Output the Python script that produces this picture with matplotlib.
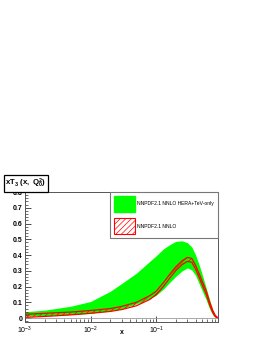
import matplotlib
matplotlib.use("Agg")
import matplotlib.pyplot as plt
from matplotlib.patches import Patch
from matplotlib.ticker import LogLocator, MultipleLocator, NullFormatter

# x grid of the PDF bands
x_vals = [0.001, 0.002, 0.005, 0.01, 0.02, 0.03, 0.05, 0.08, 0.1, 0.13, 0.16,
          0.2, 0.25, 0.3, 0.35, 0.4, 0.45, 0.5, 0.58, 0.65, 0.73, 0.8, 0.88]

# NNPDF2.1 NNLO HERA+TeV-only (green band)
green_hi = [0.040, 0.050, 0.075, 0.105, 0.170, 0.220, 0.285, 0.360, 0.395, 0.440, 0.465,
            0.487, 0.490, 0.478, 0.450, 0.400, 0.340, 0.280, 0.190, 0.120, 0.050, 0.015, 0.0]
green_lo = [0.012, 0.015, 0.022, 0.030, 0.045, 0.060, 0.090, 0.125, 0.145, 0.185, 0.225,
            0.265, 0.300, 0.318, 0.305, 0.270, 0.220, 0.175, 0.115, 0.060, 0.020, 0.005, 0.0]

# NNPDF2.1 NNLO (red hatched band)
red_hi = [0.024, 0.030, 0.038, 0.048, 0.060, 0.074, 0.100, 0.142, 0.170, 0.226, 0.276,
          0.326, 0.364, 0.385, 0.378, 0.334, 0.284, 0.237, 0.172, 0.105, 0.048, 0.016, 0.0]
red_lo = [0.004, 0.010, 0.020, 0.030, 0.042, 0.054, 0.078, 0.118, 0.148, 0.202, 0.252,
          0.302, 0.340, 0.360, 0.354, 0.310, 0.260, 0.213, 0.150, 0.087, 0.034, 0.008, 0.0]

labels = ["NNPDF2.1 NNLO HERA+TeV-only", "NNPDF2.1 NNLO"]

plt.rcParams['font.family'] = ['Liberation Sans', 'DejaVu Sans']
plt.rcParams['mathtext.fontset'] = 'custom'
plt.rcParams['mathtext.rm'] = 'Liberation Sans:bold'
plt.rcParams['mathtext.it'] = 'Liberation Sans:bold'
plt.rcParams['mathtext.bf'] = 'Liberation Sans:bold'
plt.rcParams['hatch.linewidth'] = 0.5

fig = plt.figure(figsize=(2.62, 3.39), dpi=100)
ax = fig.add_axes([0.0954, 0.0516, 0.737, 0.382])

ax.fill_between(x_vals, green_lo, green_hi, color='#00ff00', linewidth=0)
ax.fill_between(x_vals, red_lo, red_hi, facecolor='none', edgecolor='red',
                hatch='//////', linewidth=0)
ax.plot(x_vals, red_hi, color='red', lw=0.9)
ax.plot(x_vals, red_lo, color='red', lw=0.9)
ax.axhline(0, color='#999999', lw=0.6)

ax.set_xscale('log')
ax.set_xlim(1e-3, 0.88)
ax.set_ylim(-0.022, 0.8)

ax.yaxis.set_major_locator(MultipleLocator(0.1))
ax.yaxis.set_minor_locator(MultipleLocator(0.02))
ax.xaxis.set_major_locator(LogLocator(base=10))
ax.xaxis.set_minor_locator(LogLocator(base=10, subs=range(2, 10)))
ax.xaxis.set_minor_formatter(NullFormatter())
ax.yaxis.set_major_formatter(lambda v, p: '0' if abs(v) < 1e-9 else '%.1f' % v)

ax.tick_params(axis='both', which='major', direction='in', length=4, width=0.6,
               labelsize=5, color='#333333', pad=2, top=False, right=False)
ax.tick_params(axis='both', which='minor', direction='in', length=2, width=0.5,
               color='#333333', top=False, right=False)
for lab in ax.get_yticklabels():
    lab.set_fontweight('bold')
for s in ax.spines.values():
    s.set_color('#555555')
    s.set_linewidth(0.7)

ax.set_xlabel('x', fontsize=5, fontweight='bold')
ax.xaxis.set_label_coords(0.5, -0.088)
ax.xaxis.label.set_va('center')

handles = [Patch(facecolor='#00ff00', edgecolor='#00ff00'),
           Patch(facecolor='none', edgecolor='red', hatch='//////', lw=0.8)]
leg = ax.legend(handles, labels, loc='upper right', bbox_to_anchor=(1.0, 1.0),
                borderaxespad=0, fontsize=3.6, handlelength=4.3, handleheight=4.5,
                handletextpad=0.4, labelspacing=1.3, borderpad=0.8,
                fancybox=False, framealpha=1, edgecolor='#777777')
leg.get_frame().set_linewidth(0.8)

fig.text(0.02, 0.4587, r'$xT_{3}\ (x,\ Q^{2}_{0})$', fontsize=5.6, ha='left', va='center',
         bbox=dict(boxstyle='square,pad=0.2', facecolor='white', edgecolor='black', lw=0.9))

fig.savefig('out.png', dpi=100)
